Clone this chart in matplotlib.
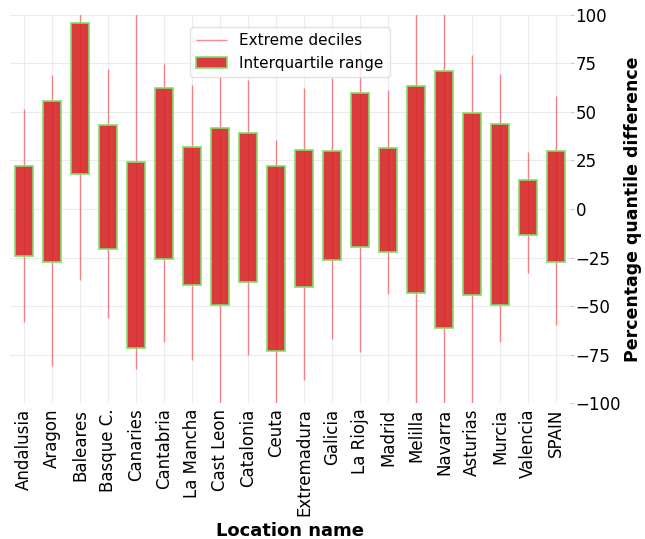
import numpy as np
import matplotlib.pyplot as plt

locations = ['Andalusia', 'Aragon', 'Baleares', 'Basque C.', 'Canaries', 'Cantabria',
             'La Mancha', 'Cast Leon', 'Catalonia', 'Ceuta', 'Extremadura', 'Galicia',
             'La Rioja', 'Madrid', 'Melilla', 'Navarra', 'Asturias', 'Murcia',
             'Valencia', 'SPAIN']
q75 = [22, 55.7, 96, 43.3, 24.2, 62.4, 32, 42, 39, 22, 30.6, 30, 60, 31.6, 63.2, 71.3, 49.6, 43.6, 14.8, 29.9]
q25 = [-24.2, -27.5, 18, -20.8, -71.5, -25.8, -39, -49.5, -37.8, -73, -40, -26.3, -19.8, -22, -43.5, -61.2, -44.5, -49.7, -13.4, -27.5]
d90 = [51.5, 69, 110, 72, 110, 74.7, 64, 68, 66.5, 35.6, 62.4, 67.4, 80, 61.3, 110, 110, 79.4, 69.6, 29.4, 58.2]
d10 = [-58, -81, -36.6, -56, -82.5, -68.4, -77.8, -110, -75, -110, -88, -67, -73.5, -44, -110, -110, -110, -68.4, -32.8, -59.8]

fig = plt.figure(figsize=(6.45, 5.39), dpi=100)
ax = fig.add_axes([0.0155, 0.2523, 0.8682, 0.7199])

x = np.arange(len(locations))
ax.vlines(x, d10, d90, color='red', alpha=0.45, lw=1, label='Extreme deciles', zorder=2)
ax.bar(x, np.array(q75) - np.array(q25), bottom=q25, width=0.65, color='tab:red', alpha=0.9,
       edgecolor='#7ee06a', linewidth=1.3, label='Interquartile range', zorder=3)

ax.set_xlim(-0.5, len(locations) - 0.5)
ax.set_ylim(-100, 100)
ax.set_xticks(x)
ax.set_xticklabels(locations, rotation=90, fontsize=12)
ax.set_yticks([-100, -75, -50, -25, 0, 25, 50, 75, 100])
ax.yaxis.tick_right()
ax.yaxis.set_label_position('right')
ax.tick_params(axis='y', labelsize=12, length=3, color='#cccccc', pad=1)
ax.tick_params(axis='x', length=0, pad=4)
for s in ax.spines.values():
    s.set_visible(False)
ax.grid(True, color='#ebebeb', lw=0.8, zorder=0)
ax.set_axisbelow(True)

ax.set_xlabel('Location name', fontsize=13, fontweight='bold')
ax.set_ylabel('Percentage quantile difference', fontsize=12.5, fontweight='bold', labelpad=2)
ax.legend(loc='upper center', bbox_to_anchor=(0.5, 0.988), fontsize=11, framealpha=0.8,
          edgecolor='#dddddd', handlelength=2.0)

plt.savefig('out.png', dpi=100)
